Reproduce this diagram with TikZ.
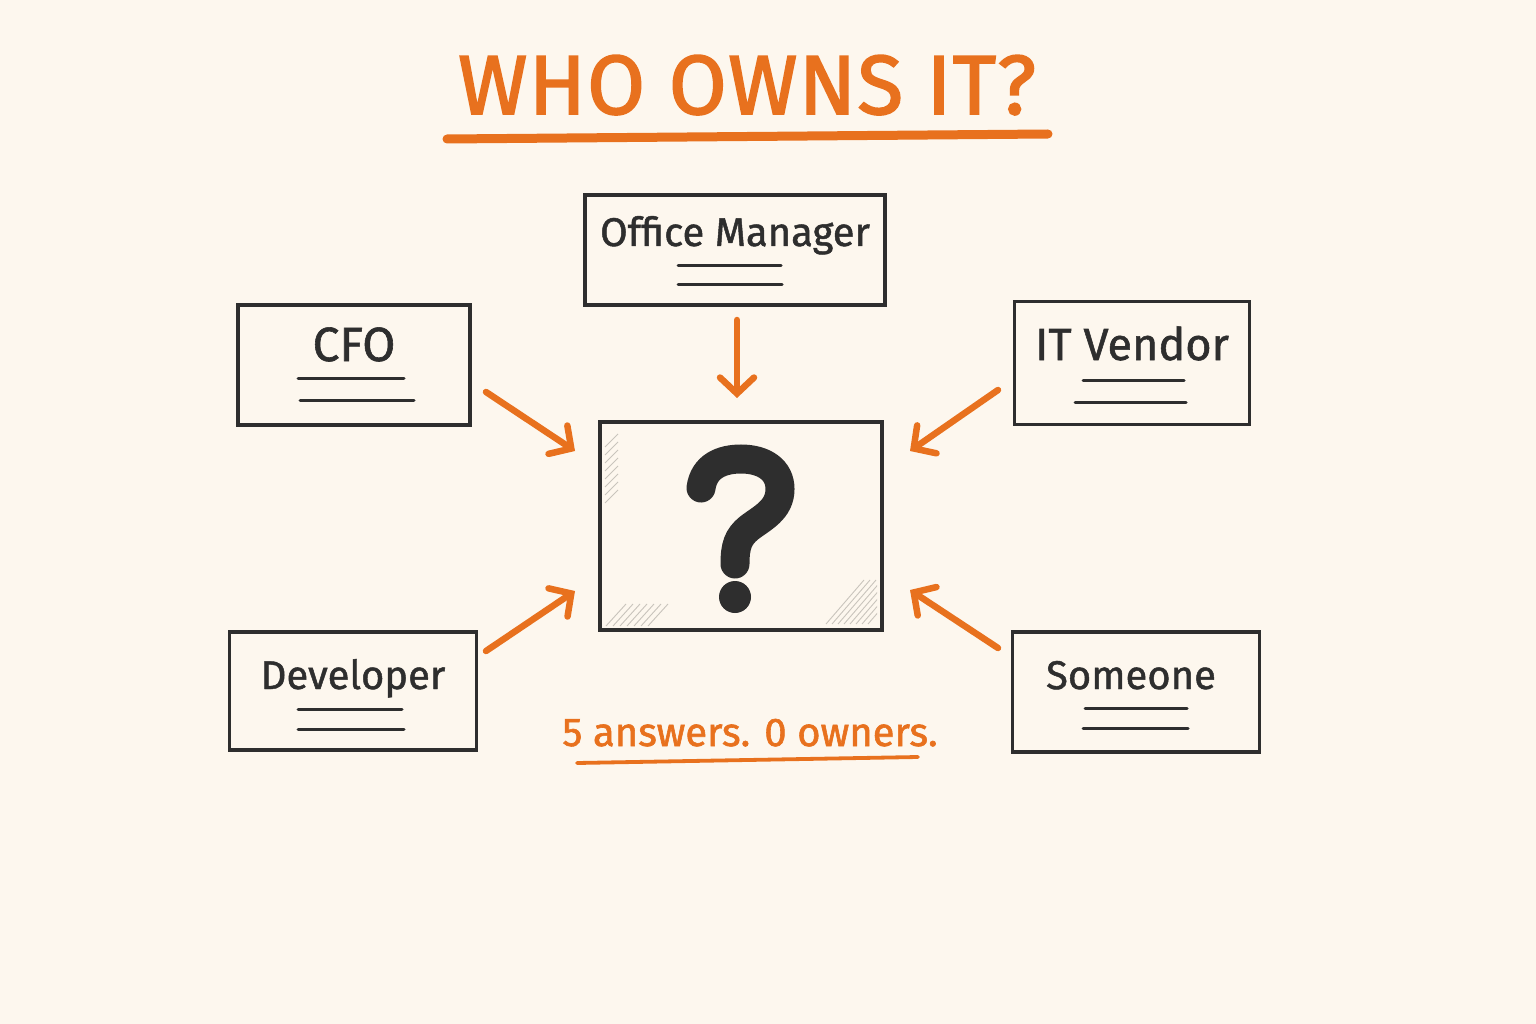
\documentclass[tikz,border=0pt]{standalone}
\usepackage{fontspec}
\setmainfont{Fira Sans}
\usetikzlibrary{arrows.meta}
\definecolor{bg}{HTML}{FDF7EE}
\definecolor{org}{HTML}{E8711E}
\definecolor{ink}{HTML}{2E2E2E}
\definecolor{hatch}{HTML}{C9C4BC}
\begin{document}
\begin{tikzpicture}[x=1pt,y=-1pt,
  box/.style={draw=ink,line width=3.6pt,inner sep=0pt},
  lbl/.style={text=ink,anchor=base,inner sep=0pt,font=\fontsize{40}{48}\selectfont\addfontfeatures{FakeBold=1.2}},
  rule/.style={draw=ink,line width=3pt,line cap=round},
  arr/.style={draw=org,line width=6.5pt,line cap=round,-{Straight Barb[length=16pt,width=34pt,line cap=round]}},
  hl/.style={draw=hatch,line width=0.9pt}]
\fill[bg] (0,0) rectangle (1536,1024);
\useasboundingbox (0,0) rectangle (1536,1024);

% title
\node[text=org,anchor=base,inner sep=0pt,font=\fontsize{84}{96}\selectfont\addfontfeatures{FakeBold=2,LetterSpace=1.5}] (title) at (747,114) {WHO OWNS IT?};
\draw[org,line width=9pt,line cap=round] (447,139) -- (1048,134);

% boxes
\node[box,minimum width=300pt,minimum height=110pt] (om) at (735,250) {};
\node[box,minimum width=232pt,minimum height=120pt] (cfo) at (354,365) {};
\node[box,minimum width=235pt,minimum height=123pt] (itv) at (1132,363) {};
\node[box,minimum width=247pt,minimum height=118pt] (dev) at (353,691) {};
\node[box,minimum width=247pt,minimum height=120pt] (some) at (1136,692) {};
\node[box,minimum width=282pt,minimum height=208pt] (q) at (741,526) {};

% labels
\node[lbl] (omt) at (om.center |- 0,246) {Office Manager};
\node[lbl,font=\fontsize{48}{56}\selectfont\addfontfeatures{FakeBold=1.2}] (cfot) at (cfo.center |- 0,361) {CFO};
\node[lbl,font=\fontsize{45}{54}\selectfont\addfontfeatures{FakeBold=1.2}] (itvt) at (itv.center |- 0,360) {IT Vendor};
\node[lbl] (devt) at (dev.center |- 0,689) {Developer};
\node[lbl] (somet) at (1131,689) {Someone};

% rules
\draw[rule] (678,266) -- (781,266);  \draw[rule] (678,285) -- (782,285);
\draw[rule] (298,378) -- (404,378);  \draw[rule] (300,400) -- (414,400);
\draw[rule] (1083,380) -- (1184,380); \draw[rule] (1075,402) -- (1186,402);
\draw[rule] (298,709) -- (402,709);  \draw[rule] (298,729) -- (404,729);
\draw[rule] (1085,708) -- (1187,708); \draw[rule] (1083,728) -- (1188,728);

% hatching in centre box
\foreach \i in {0,...,7} {\draw[hl] (605,{447+\i*8}) -- (618,{434+\i*8});}
\foreach \i in {0,...,6} {\draw[hl] ({606+\i*7},626) -- ({626+\i*7},604);}
\begin{scope}
\clip (822,560) rectangle (877,625);
\foreach \i in {0,...,7} {\draw[hl] ({826+\i*6},624) -- ({864+\i*6},{580});}
\end{scope}

% question mark
\node[inner sep=0pt,minimum size=0pt] (qm) at (740,528) {};
\draw[ink,line width=29pt,line cap=round] (701,488) .. controls (704,466) and (722,459) .. (741,459)
  .. controls (764,459) and (780,470) .. (780,489)
  .. controls (780,510) and (762,518) .. (749,528)
  .. controls (738,537) and (735,546) .. (735,564);
\fill[ink] (735,597) circle (16pt);

% arrows
\coordinate (a1s) at (737,320); \coordinate (a1e) at (737,398);
\coordinate (a2s) at (486,392); \coordinate (a2e) at (575,451);
\coordinate (a3s) at (998,390); \coordinate (a3e) at (910,451);
\coordinate (a4s) at (486,651); \coordinate (a4e) at (575,591);
\coordinate (a5s) at (998,648); \coordinate (a5e) at (910,590);
\draw[arr] (a1s) -- (a1e);
\draw[arr] (a2s) -- (a2e);
\draw[arr] (a3s) -- (a3e);
\draw[arr] (a4s) -- (a4e);
\draw[arr] (a5s) -- (a5e);

% bottom caption
\node[text=org,anchor=base,inner sep=0pt,font=\fontsize{40}{48}\selectfont\addfontfeatures{FakeBold=1.5}] (cap) at (750,746) {5 answers. 0 owners.};
\draw[org,line width=3.8pt,line cap=round] (577,763) -- (918,757);
\end{tikzpicture}
\end{document}
